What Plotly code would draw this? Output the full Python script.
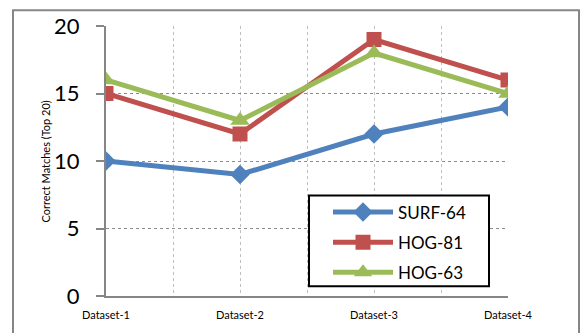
import plotly.graph_objects as go

categories = ["Dataset-1", "Dataset-2", "Dataset-3", "Dataset-4"]
surf64 = [10, 9, 12, 14]
hog81 = [15, 12, 19, 16]
hog63 = [16, 13, 18, 15]
y_ticks = [0, 5, 10, 15, 20]

xpos = list(range(len(categories)))
FONT = "Lato"

fig = go.Figure()
fig.add_trace(go.Scatter(x=xpos, y=surf64, name="SURF-64", mode="lines+markers",
                         legendgroup="a",
                         line=dict(color="#4F81BD", width=5),
                         marker=dict(symbol="diamond", size=15, color="#4F81BD")))
fig.add_trace(go.Scatter(x=xpos, y=hog81, name="HOG-81", mode="lines+markers",
                         legendgroup="b",
                         line=dict(color="#C0504D", width=5),
                         marker=dict(symbol="square", size=15, color="#C0504D")))
fig.add_trace(go.Scatter(x=xpos, y=hog63, name="HOG-63", mode="lines+markers",
                         legendgroup="c",
                         line=dict(color="#9BBB59", width=5),
                         marker=dict(symbol="triangle-up", size=17, color="#9BBB59")))

L, R, T, B = 106, 508, 24, 298
W, H = 582, 333
pw, ph = R - L, B - T
def px(x): return (x - L) / pw
def py(y): return (B - y) / ph

fig.update_layout(
    width=W, height=H,
    margin=dict(l=L, r=W - R, t=T, b=H - B),
    paper_bgcolor="white", plot_bgcolor="white",
    font=dict(family=FONT, color="black"),
    showlegend=True,
    legend=dict(x=px(328), y=py(195), xanchor="left", yanchor="top",
                bgcolor="rgba(0,0,0,0)", borderwidth=0,
                font=dict(size=17, family=FONT), itemwidth=60,
                tracegroupgap=5),
    xaxis=dict(range=[0, 3], tickmode="array", tickvals=xpos, ticktext=categories,
               showgrid=True, gridcolor="#BFBFBF", griddash="dot", gridwidth=1,
               minor=dict(tickmode="array", tickvals=[0.5, 1.5, 2.5], showgrid=True,
                          gridcolor="#BFBFBF", griddash="dot", gridwidth=1),
               showline=True, linecolor="#868686", linewidth=2,
               ticks="", tickfont=dict(size=11, family=FONT), zeroline=False,
               ticklabelstandoff=8),
    yaxis=dict(range=[0, 20], tickmode="array", tickvals=y_ticks,
               showgrid=True, gridcolor="#8C8C8C", griddash="dot", gridwidth=1,
               showline=True, linecolor="#868686", linewidth=2,
               ticks="outside", ticklen=8, tickcolor="#868686", tickwidth=2,
               tickfont=dict(size=22, family=FONT), zeroline=False,
               ticklabelstandoff=12),
    annotations=[dict(text="Correct Matches (Top 20)", x=px(37), y=py(162),
                      xref="paper", yref="paper", showarrow=False, textangle=-90,
                      font=dict(size=11, family=FONT))],
    shapes=[dict(type="rect", xref="paper", yref="paper",
                 x0=px(13), x1=px(579), y0=py(345), y1=py(8),
                 line=dict(color="#868686", width=2), layer="below"),
            dict(type="rect", xref="paper", yref="paper",
                 x0=px(309), x1=px(489), y0=py(288), y1=py(196),
                 fillcolor="white", line=dict(color="black", width=2),
                 layer="above")],
)

fig.write_html("out.html")
